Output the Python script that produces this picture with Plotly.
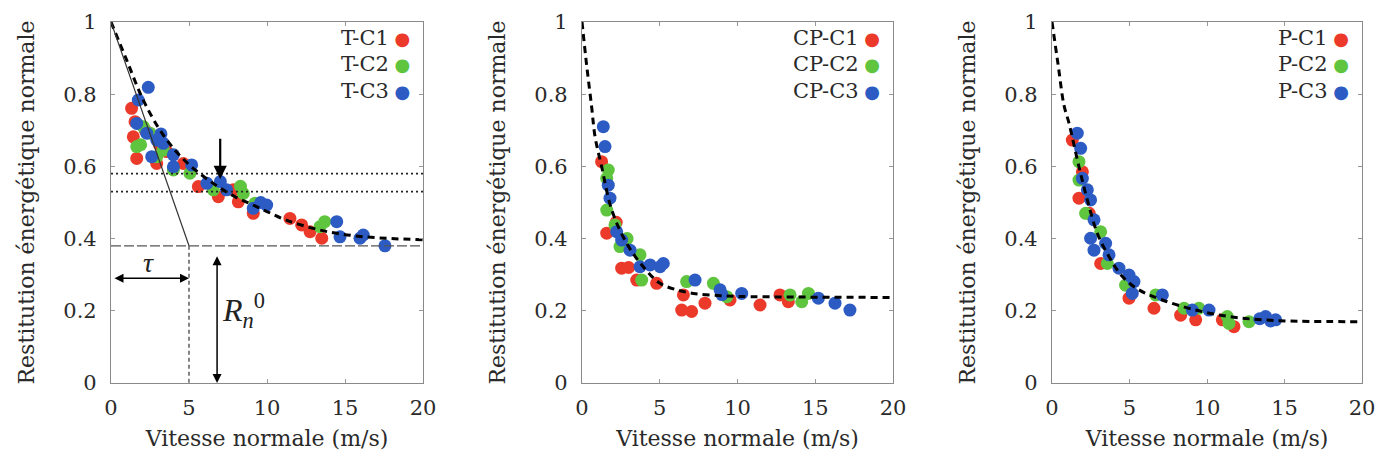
import plotly.graph_objects as go
from plotly.subplots import make_subplots

# ---------------- Data ----------------
# Panel 1: T
t_c1_x = [1.32, 1.54, 1.43, 1.65, 2.93, 3.57, 4.64, 5.60, 6.88, 7.84, 8.16, 9.12, 11.47, 12.22, 12.76, 13.51, 2.2, 3.1]
t_c1_y = [0.761, 0.724, 0.682, 0.622, 0.608, 0.641, 0.608, 0.544, 0.516, 0.535, 0.502, 0.470, 0.456, 0.438, 0.419, 0.401, 0.70, 0.66]
t_c2_x = [1.65, 2.07, 2.50, 2.93, 4.00, 5.06, 6.56, 8.48, 9.23, 13.40, 13.70, 3.35, 1.9, 8.3]
t_c2_y = [0.655, 0.710, 0.692, 0.627, 0.590, 0.581, 0.535, 0.525, 0.498, 0.433, 0.447, 0.645, 0.66, 0.545]
t_c3_x = [2.39, 1.75, 1.65, 2.29, 2.93, 3.35, 2.61, 4.00, 4.00, 5.17, 6.15, 7.01, 7.41, 9.12, 9.98, 14.47, 14.68, 15.96, 16.17, 17.56, 3.2, 9.6]
t_c3_y = [0.819, 0.784, 0.719, 0.692, 0.673, 0.664, 0.627, 0.632, 0.599, 0.604, 0.553, 0.558, 0.535, 0.484, 0.493, 0.447, 0.405, 0.401, 0.410, 0.380, 0.69, 0.50]
t_fit_x = [0, 1, 2, 3, 4, 5, 6, 7, 8, 9, 10, 11, 12, 14, 16, 18, 20]
t_fit_y = [1.0, 0.895, 0.79, 0.71, 0.65, 0.605, 0.57, 0.54, 0.515, 0.495, 0.475, 0.455, 0.44, 0.418, 0.406, 0.40, 0.397]

# Panel 2: CP
cp_c1_x = [1.26, 1.59, 2.55, 3.52, 4.80, 6.52, 6.41, 7.05, 7.91, 9.52, 11.45, 12.73, 13.27, 2.2, 3.0]
cp_c1_y = [0.613, 0.415, 0.318, 0.285, 0.276, 0.244, 0.202, 0.198, 0.221, 0.230, 0.216, 0.244, 0.225, 0.445, 0.32]
cp_c2_x = [1.69, 1.59, 1.59, 2.12, 2.44, 3.73, 3.84, 6.73, 8.45, 9.31, 13.38, 14.13, 14.56, 2.9]
cp_c2_y = [0.590, 0.567, 0.479, 0.438, 0.378, 0.355, 0.285, 0.281, 0.276, 0.239, 0.244, 0.225, 0.248, 0.40]
cp_c3_x = [1.37, 1.48, 1.69, 1.80, 2.23, 2.55, 3.09, 3.73, 4.38, 5.02, 5.23, 7.27, 8.88, 10.27, 15.20, 16.27, 17.23, 9.0]
cp_c3_y = [0.710, 0.655, 0.548, 0.512, 0.419, 0.396, 0.368, 0.322, 0.327, 0.322, 0.331, 0.285, 0.258, 0.248, 0.235, 0.221, 0.202, 0.245]
cp_fit_x = [0, 0.3, 0.62, 0.84, 1.26, 1.91, 2.87, 3.94, 5.02, 6.09, 7.16, 8.5, 10, 14, 20]
cp_fit_y = [1.0, 0.88, 0.765, 0.682, 0.60, 0.48, 0.387, 0.322, 0.276, 0.258, 0.248, 0.243, 0.240, 0.238, 0.237]

# Panel 3: P
p_c1_x = [1.31, 1.96, 1.74, 3.14, 4.97, 6.58, 8.30, 9.27, 10.99, 11.74, 2.4]
p_c1_y = [0.673, 0.585, 0.512, 0.331, 0.235, 0.207, 0.188, 0.175, 0.175, 0.156, 0.47]
p_c2_x = [1.74, 1.74, 2.17, 3.14, 3.57, 4.75, 6.69, 8.52, 9.48, 11.31, 11.42, 12.71]
p_c2_y = [0.613, 0.562, 0.470, 0.419, 0.331, 0.271, 0.244, 0.207, 0.207, 0.184, 0.165, 0.170]
p_c3_x = [1.63, 1.85, 1.96, 2.28, 2.49, 2.71, 2.49, 2.71, 3.46, 3.68, 4.32, 4.97, 5.29, 5.18, 7.12, 9.05, 10.13, 13.78, 14.43, 13.4, 14.1]
p_c3_y = [0.692, 0.650, 0.567, 0.535, 0.507, 0.452, 0.401, 0.368, 0.387, 0.355, 0.318, 0.299, 0.281, 0.248, 0.244, 0.202, 0.202, 0.184, 0.175, 0.178, 0.172]
p_fit_x = [0, 0.4, 0.77, 1.10, 1.74, 2.28, 2.92, 3.68, 4.54, 5.61, 7.12, 9.27, 11.42, 13.57, 16, 20]
p_fit_y = [1.0, 0.88, 0.77, 0.719, 0.599, 0.507, 0.415, 0.350, 0.295, 0.258, 0.230, 0.202, 0.184, 0.175, 0.171, 0.170]

series_names = ["C1", "C2", "C3"]
colors = ["#EC3A2A", "#5FC43E", "#2C5BC4"]

# Construction lines for panel T
R0 = 0.38
TAU = 5
dotted_levels = [0.580, 0.530]
arrow_v = 7.0
arrow_top, arrow_bottom = 0.70, 0.565
tau_arrow_y = 0.29
r_arrow_x = 6.8

panels = [
    ("T", [(t_c1_x, t_c1_y), (t_c2_x, t_c2_y), (t_c3_x, t_c3_y)], (t_fit_x, t_fit_y)),
    ("CP", [(cp_c1_x, cp_c1_y), (cp_c2_x, cp_c2_y), (cp_c3_x, cp_c3_y)], (cp_fit_x, cp_fit_y)),
    ("P", [(p_c1_x, p_c1_y), (p_c2_x, p_c2_y), (p_c3_x, p_c3_y)], (p_fit_x, p_fit_y)),
]

FONT = "DejaVu Serif"
MATH_FONT = "Liberation Serif"
TXT = "#2a2a2a"
fig = make_subplots(rows=1, cols=3, horizontal_spacing=0.127)

for i, (prefix, series, fit) in enumerate(panels):
    col = i + 1
    for (sx, sy), nm, c in zip(series, series_names, colors):
        fig.add_trace(go.Scatter(x=sx, y=sy, mode="markers", name=f"{prefix}-{nm}",
                                 marker=dict(color=c, size=13, line=dict(width=0)),
                                 showlegend=False), row=1, col=col)
    fig.add_trace(go.Scatter(x=fit[0], y=fit[1], mode="lines", line_shape="spline",
                             line=dict(color="black", width=3, dash="7px,5px"),
                             showlegend=False, hoverinfo="skip"), row=1, col=col)

# T panel construction lines
fig.add_trace(go.Scatter(x=[0, TAU], y=[1.0, R0], mode="lines",
                         line=dict(color="#333333", width=1.2), showlegend=False, hoverinfo="skip"), row=1, col=1)
fig.add_trace(go.Scatter(x=[TAU, TAU], y=[R0, 0], mode="lines",
                         line=dict(color="#333333", width=1.2, dash="4px,3px"), showlegend=False, hoverinfo="skip"), row=1, col=1)
fig.add_trace(go.Scatter(x=[0, 20], y=[R0, R0], mode="lines",
                         line=dict(color="#555555", width=1.2, dash="10px,3px"), showlegend=False, hoverinfo="skip"), row=1, col=1)
for lv in dotted_levels:
    fig.add_trace(go.Scatter(x=[0, 20], y=[lv, lv], mode="lines",
                             line=dict(color="#222222", width=1.6, dash="2px,3px"), showlegend=False, hoverinfo="skip"), row=1, col=1)

axis_common = dict(range=[0, 20], tickvals=[0, 5, 10, 15, 20], ticks="inside", ticklen=4,
                   tickcolor="#999999", showline=True, linecolor="#8a8a8a", linewidth=1.2,
                   mirror="ticks", showgrid=False, zeroline=False,
                   tickfont=dict(family=FONT, size=21, color=TXT),
                   title=dict(text="Vitesse normale (m/s)", font=dict(family=FONT, size=22, color=TXT), standoff=11),
                   ticklabelstandoff=6, automargin=False)
yaxis_common = dict(range=[0, 1], tickvals=[0, 0.2, 0.4, 0.6, 0.8, 1], ticktext=["0", "0.2", "0.4", "0.6", "0.8", "1"],
                    ticks="inside", ticklen=4, tickcolor="#999999", showline=True, linecolor="#8a8a8a",
                    linewidth=1.2, mirror="ticks", showgrid=False, zeroline=False,
                    tickfont=dict(family=FONT, size=21, color=TXT),
                    title=dict(text="Restitution énergétique normale", font=dict(family=FONT, size=22, color=TXT), standoff=22),
                    ticklabelstandoff=9, automargin=False)

domains = [[0, 0.2494], [0.3765, 0.6251], [0.7522, 1.0]]
for i in range(3):
    fig.update_xaxes(row=1, col=i + 1, domain=domains[i], **axis_common)
    fig.update_yaxes(row=1, col=i + 1, **yaxis_common)

annotations = []
legend_rows = [0.955, 0.884, 0.810]
for i, (prefix, _, _) in enumerate(panels):
    xr = "x" if i == 0 else f"x{i+1}"
    yr = "y" if i == 0 else f"y{i+1}"
    for nm, c, yy in zip(series_names, colors, legend_rows):
        annotations.append(dict(x=19.3, y=yy, xref=xr, yref=yr, xanchor="right", yanchor="middle",
                                text=f"{prefix}-{nm}<span style='color:{c};font-size:18px'> ●</span>",
                                showarrow=False, font=dict(family=FONT, size=21, color=TXT)))

annotations.append(dict(x=arrow_v, y=arrow_bottom, ax=arrow_v, ay=arrow_top, xref="x", yref="y", axref="x", ayref="y",
                        showarrow=True, arrowhead=2, arrowsize=1.2, arrowwidth=2.2, arrowcolor="black", text=" "))
annotations.append(dict(x=TAU, y=tau_arrow_y, ax=0, ay=tau_arrow_y, xref="x", yref="y", axref="x", ayref="y",
                        showarrow=True, arrowhead=2, startarrowhead=2, arrowside="end+start", arrowsize=1.2,
                        arrowwidth=1.5, arrowcolor="black", text=" "))
annotations.append(dict(x=r_arrow_x, y=0.0, ax=r_arrow_x, ay=R0 - 0.005, xref="x", yref="y", axref="x", ayref="y",
                        showarrow=True, arrowhead=2, startarrowhead=2, arrowside="end+start", arrowsize=1.2,
                        arrowwidth=1.5, arrowcolor="black", text=" "))
annotations.append(dict(x=2.4, y=0.335, xref="x", yref="y", text="<i>τ</i>", showarrow=False,
                        font=dict(family=MATH_FONT, size=28, color="#222222")))
annotations.append(dict(x=8.5, y=0.20, xref="x", yref="y", text="<i>R</i><sub><i>n</i></sub><sup>0</sup>", showarrow=False,
                        font=dict(family=MATH_FONT, size=32, color="#222222")))

# page body has an 8px margin: shift the figure so the plot areas land where the reference has them
fig.update_layout(width=1381, height=455, margin=dict(l=103, r=27, t=14, b=80),
                  plot_bgcolor="white", paper_bgcolor="white", showlegend=False,
                  annotations=annotations, font=dict(family=FONT))

fig.write_html("out.html")
